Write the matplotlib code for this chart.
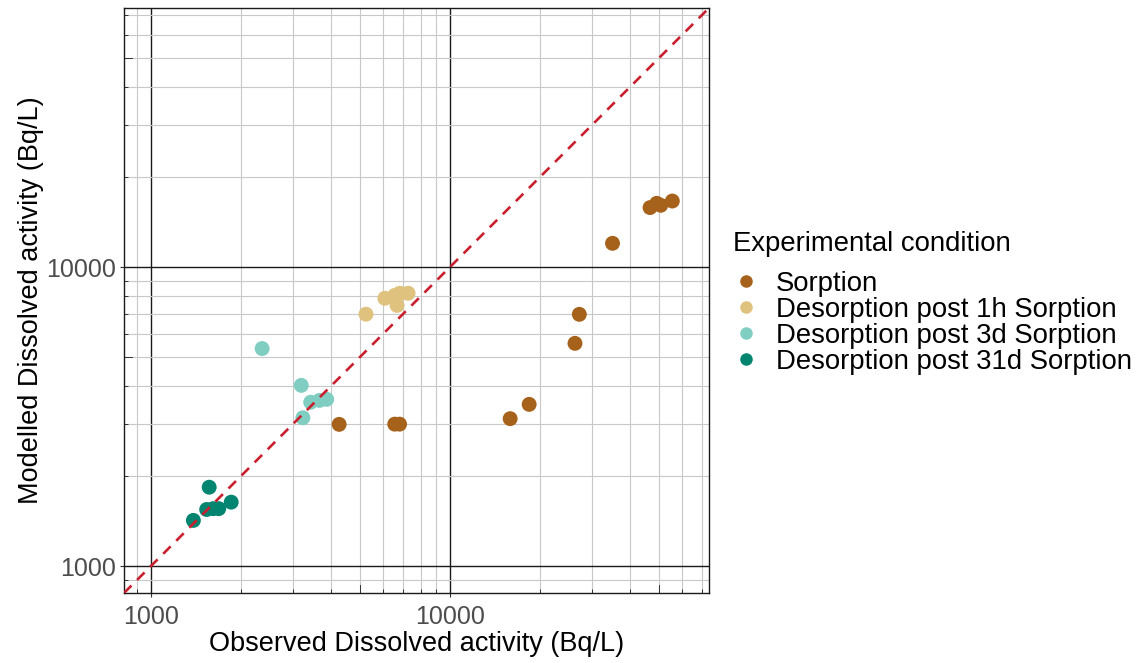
import numpy as np
import matplotlib.pyplot as plt
from matplotlib.lines import Line2D
import matplotlib.transforms as mtransforms
from matplotlib.ticker import NullFormatter, FixedLocator

plt.rcParams['font.family'] = ['Liberation Sans', 'DejaVu Sans']

# data (Bq/L) ---------------------------------------------------------------
sorption_obs = [4270, 6550, 6800, 15930, 18440, 26240, 27130, 35030, 46770, 49240, 50780, 55510]
sorption_mod = [2985, 2990, 2990, 3119, 3482, 5570, 6964, 12030, 15840, 16370, 16120, 16660]

des1h_obs = [5250, 6070, 6560, 6810, 7260, 6670]
des1h_mod = [6970, 7880, 8060, 8190, 8190, 7460]

des3d_obs = [2360, 3190, 3430, 3670, 3880, 3230]
des3d_mod = [5350, 4030, 3540, 3590, 3620, 3140]

des31d_obs = [1390, 1570, 1540, 1620, 1690, 1860]
des31d_mod = [1425, 1840, 1550, 1560, 1560, 1640]

labels = ['Sorption', 'Desorption post 1h Sorption',
          'Desorption post 3d Sorption', 'Desorption post 31d Sorption']
colors = ['#A6611A', '#DFC27D', '#80CDC1', '#018571']
series = [(sorption_obs, sorption_mod), (des1h_obs, des1h_mod),
          (des3d_obs, des3d_mod), (des31d_obs, des31d_mod)]

lims = (1000, 60000)
majors = [1000, 10000]

# figure -------------------------------------------------------------------
fig = plt.figure(figsize=(11.4, 6.63), dpi=100)
ax = fig.add_axes([124/1140, 1-593/663, 585/1140, 585/663])
ax.set_xscale('log')
ax.set_yscale('log')

# ggplot style 5% expansion on log scale
lo, hi = np.log10(lims)
pad = 0.05*(hi-lo)
ax.set_xlim(10**(lo-pad), 10**(hi+pad))
ax.set_ylim(10**(lo-pad), 10**(hi+pad))

# grid: minor gray, major black
minor_vals = [m*10**k for k in range(2, 5) for m in range(2, 10)]
ax.xaxis.set_major_locator(FixedLocator(majors))
ax.yaxis.set_major_locator(FixedLocator(majors))
ax.xaxis.set_minor_locator(FixedLocator(minor_vals))
ax.yaxis.set_minor_locator(FixedLocator(minor_vals))
ax.xaxis.set_minor_formatter(NullFormatter())
ax.yaxis.set_minor_formatter(NullFormatter())
ax.set_xticklabels(['1000', '10000'])
ax.set_yticklabels(['1000', '10000'])
ax.grid(which='minor', color='#C8C8C8', lw=0.8)
ax.grid(which='major', color='#1a1a1a', lw=1.0)
ax.set_axisbelow(True)

ax.tick_params(which='major', direction='out', length=3, width=0.8,
               color='#333333', labelsize=18, labelcolor='#4D4D4D')
ax.tick_params(axis='x', which='major', pad=6)
ax.tick_params(axis='y', which='major', pad=3)
ax.tick_params(which='minor', direction='in', length=3, width=0.7,
               color='#333333', top=False, right=False)

# mid logticks (5 x 10^k) a bit longer
tx = mtransforms.blended_transform_factory(ax.transData, ax.transAxes)
ty = mtransforms.blended_transform_factory(ax.transAxes, ax.transData)
for v in [5000, 50000]:
    ax.plot([v, v], [0, 0.013], color='#333333', lw=0.7, transform=tx, clip_on=False)
    ax.plot([0, 0.013], [v, v], color='#333333', lw=0.7, transform=ty, clip_on=False)

for sp in ax.spines.values():
    sp.set_color('#1a1a1a')
    sp.set_linewidth(1.0)

# points
for (xo, ym), c, lab in zip(series, colors, labels):
    ax.scatter(xo, ym, s=115, color=c, edgecolors='none', label=lab, zorder=3)

# 1:1 line
ax.plot(ax.get_xlim(), ax.get_xlim(), color='#C8202E', lw=1.9,
        dashes=(4, 3), zorder=4)

ax.set_xlabel('Observed Dissolved activity (Bq/L)', fontsize=19.5, labelpad=1)
ax.set_ylabel('Modelled Dissolved activity (Bq/L)', fontsize=19.5, labelpad=1)

# legend
fig.text(733/1140, 1-244/663, 'Experimental condition', fontsize=19.8,
         va='center', ha='left')
handles = [Line2D([], [], ls='none', marker='o', ms=9, mfc=c, mec='none')
           for c in colors]
leg = fig.legend(handles, labels, loc='upper left',
                 bbox_to_anchor=(732/1140, 1-271/663),
                 frameon=False, fontsize=19.8,
                 labelspacing=0.0, handletextpad=0.6, handlelength=1.0,
                 borderpad=0, borderaxespad=0)

fig.savefig('out.png', dpi=100)
